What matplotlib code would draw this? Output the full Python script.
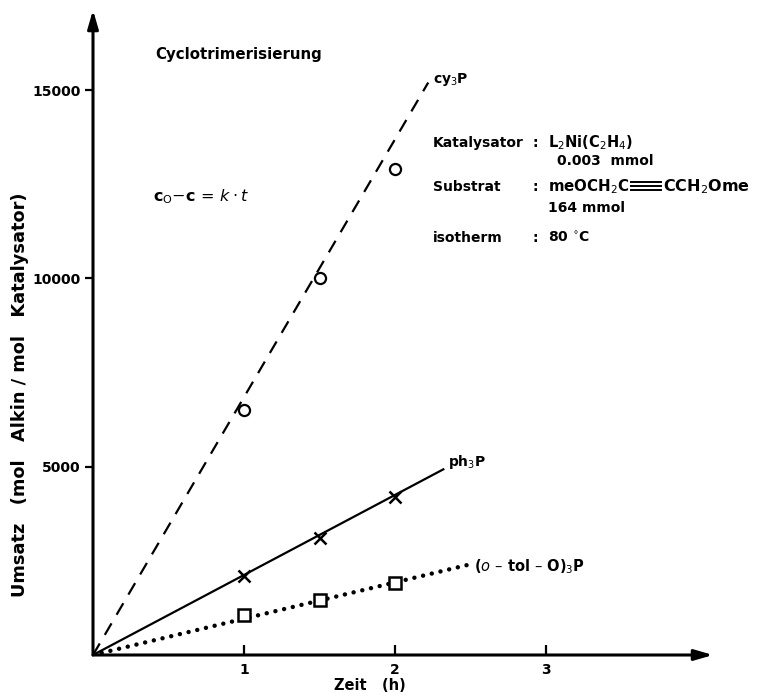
import matplotlib
matplotlib.use("Agg")
import matplotlib.pyplot as plt
from matplotlib.lines import Line2D

# reaction time (h) of the measured points
zeit = [1.0, 1.5, 2.0]
# turnover (mol alkyne / mol catalyst) for the three ligands
umsatz_cy3p = [6500, 10000, 12900]
umsatz_ph3p = [2100, 3100, 4200]
umsatz_tol = [1050, 1450, 1900]
# far ends of the straight lines through the origin
gerade_zeit = [2.22, 2.32, 2.49]
gerade_umsatz = [15200, 4930, 2400]
ligand_labels = [r"cy$_3$P", r"ph$_3$P", r"($\mathit{o}$ – tol – O)$_3$P"]
x_ticks = [1, 2, 3]
y_ticks = [5000, 10000, 15000]

FONT = "DejaVu Sans"
W, H = 757, 698
fig = plt.figure(figsize=(W / 100, H / 100), dpi=100)

# axes frame in pixels: origin and arrow tips
x0, y0 = 93, 655
x_tip, y_tip = 713, 10
px_per_h = 151.0
px_per_unit = 188.3 / 5000
ax = fig.add_axes([x0 / W, (H - y0) / H, (x_tip - x0) / W, (y0 - y_tip) / H])
ax.set_xlim(0, (x_tip - x0) / px_per_h)
ax.set_ylim(0, (y0 - y_tip) / px_per_unit)
for s in ax.spines.values():
    s.set_visible(False)
ax.patch.set_alpha(0)

# arrowed axes
arrow = dict(arrowstyle="-|>,head_length=1.1,head_width=0.32", lw=2.2,
             color="black", shrinkA=0, shrinkB=0)
ax.annotate("", xy=(1, 0), xytext=(0, 0), xycoords="axes fraction",
            arrowprops=arrow, annotation_clip=False)
ax.annotate("", xy=(0, 1), xytext=(0, 0), xycoords="axes fraction",
            arrowprops=arrow, annotation_clip=False)

ax.set_xticks(x_ticks)
ax.set_xticklabels([str(v) for v in x_ticks], fontfamily=FONT,
                   fontweight="bold", fontsize=10)
ax.set_yticks(y_ticks)
ax.set_yticklabels([str(v) for v in y_ticks], fontfamily=FONT,
                   fontweight="bold", fontsize=10)
ax.tick_params(axis="x", direction="in", length=7, width=1.6, pad=6)
ax.tick_params(axis="y", direction="out", length=6, width=1.6, pad=3)

# straight lines through the origin
ax.plot([0, gerade_zeit[0]], [0, gerade_umsatz[0]], color="black", lw=1.6,
        linestyle=(0, (6, 4.5)), zorder=2)
ax.plot([0, gerade_zeit[1]], [0, gerade_umsatz[1]], color="black", lw=1.6,
        zorder=2)
ax.plot([0, gerade_zeit[2]], [0, gerade_umsatz[2]], color="black", lw=3.2,
        linestyle=(0, (0.01, 2.0)), dash_capstyle="round", zorder=2)

# measured points
ax.plot(zeit, umsatz_cy3p, "o", ms=8, mfc="white", mec="black", mew=1.6,
        zorder=3)
ax.plot(zeit, umsatz_ph3p, "x", ms=8.5, mec="black", mew=1.8, zorder=3)
ax.plot(zeit, umsatz_tol, "s", ms=8.5, mfc="white", mec="black", mew=1.8,
        zorder=3)

# ligand labels at the line ends
offsets = [(5, 3), (5, 7), (5, -2)]
sizes = [10, 10, 10.5]
for t, u, lab, off, fs in zip(gerade_zeit, gerade_umsatz, ligand_labels,
                              offsets, sizes):
    ax.annotate(lab, xy=(t, u), xytext=off, textcoords="offset pixels",
                ha="left", va="center", fontsize=fs, fontweight="bold",
                fontfamily=FONT)


def ftext(x, y, s, **kw):
    kw.setdefault("fontsize", 10)
    kw.setdefault("fontweight", "bold")
    kw.setdefault("fontfamily", FONT)
    kw.setdefault("va", "center")
    return fig.text(x / W, 1 - y / H, s, **kw)


ftext(155, 55, "Cyclotrimerisierung", fontsize=10.8)
ftext(153, 197, r"c$_\mathrm{O}$$-$c$\,=\,k\cdot t$", fontsize=11.5)

col_label, col_colon, col_value = 433, 533, 548
ftext(col_label, 143, "Katalysator")
ftext(col_colon, 143, ":")
ftext(col_value, 143, r"L$_2$Ni(C$_2$H$_4$)", fontsize=10.5)
ftext(col_value + 9, 161, "0.003  mmol")
ftext(col_label, 187, "Substrat")
ftext(col_colon, 187, ":")
t1 = ftext(col_value, 187, r"meOCH$_2$C", fontsize=10.8)
ftext(col_value, 208, "164 mmol")
ftext(col_label, 238, "isotherm")
ftext(col_colon, 238, ":")
ftext(col_value, 238, r"80 $^{\circ}$C")

# triple bond drawn as three parallel strokes after the first fragment
fig.canvas.draw()
bb = t1.get_window_extent(fig.canvas.get_renderer())
bx0 = bb.x1 + 2
bx1 = bx0 + 30
cy = (bb.y0 + bb.y1) / 2 + 1
for dy in (-4, 0, 4):
    fig.add_artist(Line2D([bx0 / W, bx1 / W], [(cy + dy) / H, (cy + dy) / H],
                          color="black", lw=1.4, transform=fig.transFigure))
fig.text((bx1 + 2) / W, 1 - 187 / H, r"CCH$_2$Ome", fontsize=11.5,
         fontweight="bold", fontfamily=FONT, va="center")

ftext(370, 685, "Zeit   (h)", ha="center", fontsize=10.5)
ftext(20, 395, "Umsatz   (mol   Alkin / mol   Katalysator)", ha="center",
      rotation=90, fontsize=12.8)

fig.savefig("out.png", dpi=100)
